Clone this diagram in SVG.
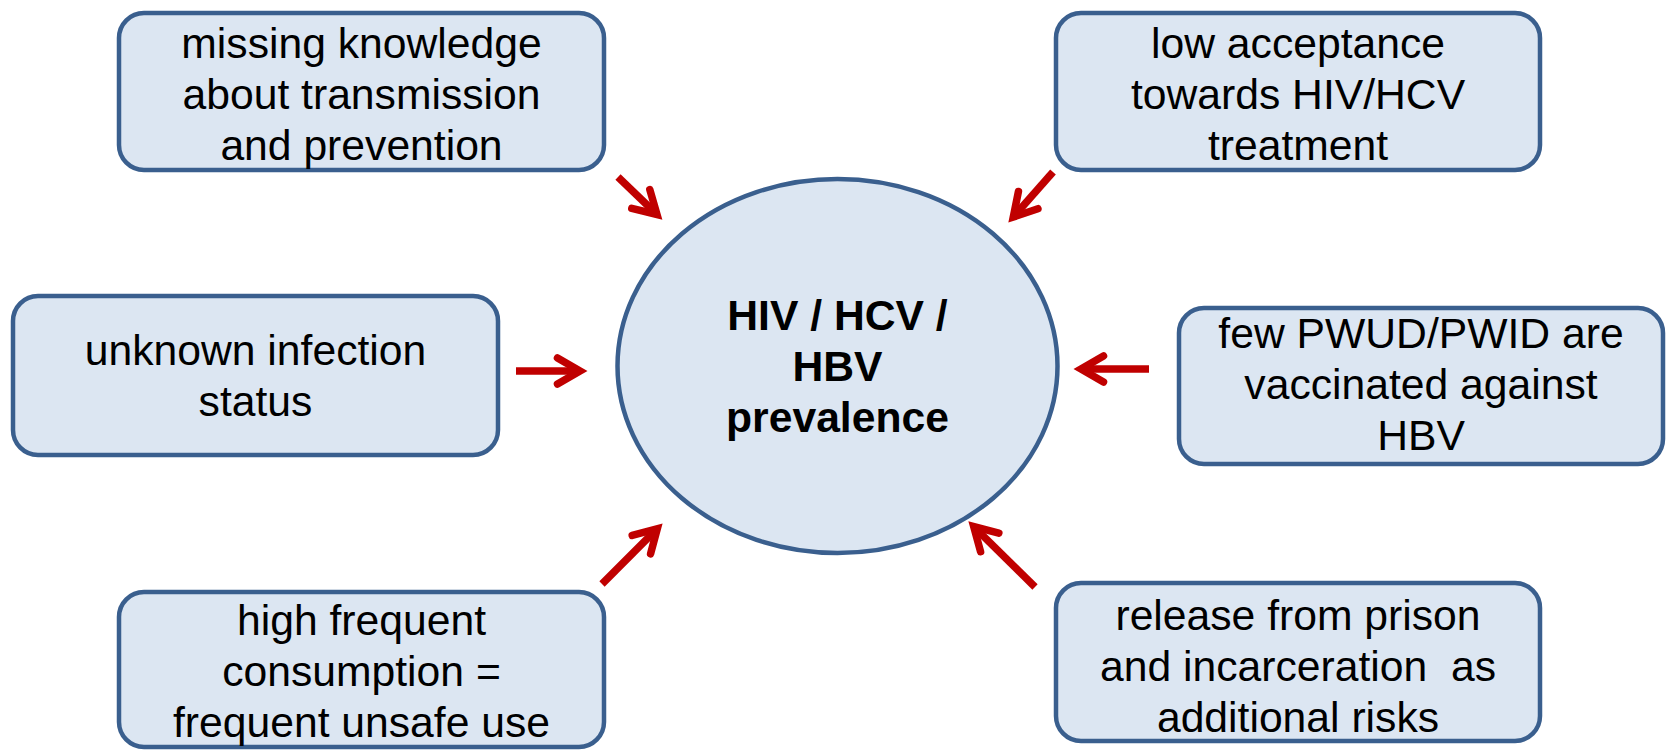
<svg xmlns="http://www.w3.org/2000/svg" width="1667" height="750" viewBox="0 0 1667 750">
<style>
.box{fill:#DCE6F2;stroke:#3A5F8E;stroke-width:4.5}
.t{font-family:"Liberation Sans",Arial,sans-serif;font-size:42.67px;fill:#000;text-anchor:middle}
.b{font-weight:bold}
.arr{stroke:#C00000;stroke-width:7.5;fill:none;stroke-linecap:butt;marker-end:url(#ah)}
</style>
<defs>
<marker id="ah" markerUnits="userSpaceOnUse" viewBox="-40 -25 50 50" markerWidth="50" markerHeight="50" refX="0" refY="0" orient="auto" overflow="visible">
<path d="M-22.5,-13 L0,0 L-22.5,13" fill="none" stroke="#C00000" stroke-width="7.5" stroke-linecap="round" stroke-linejoin="miter"/>
</marker>
</defs>
<rect width="1667" height="750" fill="#fff"/>
<g id="connectors">
<path class="arr" d="M618,177 L657,214.5"/>
<path class="arr" d="M1053,172 L1013.3,217"/>
<path class="arr" d="M516,371 L580,371"/>
<path class="arr" d="M1149,369 L1081,369"/>
<path class="arr" d="M602,584 L657.3,528.7"/>
<path class="arr" d="M1035,587 L973.7,526.6"/>
</g>
<g id="center">
<ellipse class="box" cx="837.5" cy="366" rx="220" ry="187"/>
<text class="t b" x="837.5" y="330">HIV / HCV /<tspan x="837.5" dy="51.2">HBV</tspan><tspan x="837.5" dy="51.2">prevalence</tspan></text>
</g>
<g id="n-knowledge">
<rect class="box" x="119" y="13" width="485" height="157" rx="25"/>
<text class="t" x="361.5" y="57.5">missing knowledge<tspan x="361.5" dy="51.2">about transmission</tspan><tspan x="361.5" dy="51.2">and prevention</tspan></text>
</g>
<g id="n-acceptance">
<rect class="box" x="1056" y="13" width="484" height="157" rx="25"/>
<text class="t" x="1298" y="57.5">low acceptance<tspan x="1298" dy="51.2">towards HIV/HCV</tspan><tspan x="1298" dy="51.2">treatment</tspan></text>
</g>
<g id="n-status">
<rect class="box" x="13" y="296" width="485" height="159" rx="25"/>
<text class="t" x="255.5" y="365">unknown infection<tspan x="255.5" dy="51.2">status</tspan></text>
</g>
<g id="n-vaccinated">
<rect class="box" x="1179" y="308" width="484" height="156" rx="25"/>
<text class="t" x="1421" y="348">few PWUD/PWID are<tspan x="1421" dy="51.2">vaccinated against</tspan><tspan x="1421" dy="51.2">HBV</tspan></text>
</g>
<g id="n-consumption">
<rect class="box" x="119" y="592" width="485" height="155" rx="25"/>
<text class="t" x="361.5" y="635">high frequent<tspan x="361.5" dy="51.2">consumption =</tspan><tspan x="361.5" dy="51.2">frequent unsafe use</tspan></text>
</g>
<g id="n-prison">
<rect class="box" x="1056" y="583" width="484" height="158" rx="25"/>
<text class="t" x="1298" y="630" style="white-space:pre">release from prison<tspan x="1298" dy="51.2">and incarceration  as</tspan><tspan x="1298" dy="51.2">additional risks</tspan></text>
</g>
</svg>
